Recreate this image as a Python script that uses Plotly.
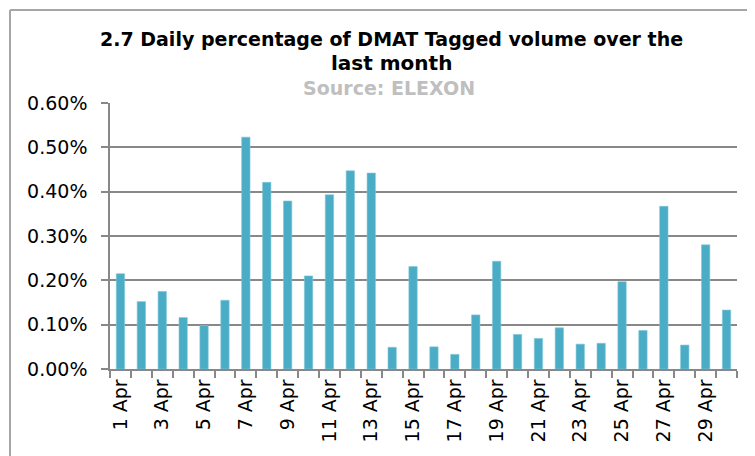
import plotly.graph_objects as go

days = [f"{d} Apr" for d in range(1, 31)]
values = [0.215, 0.152, 0.175, 0.116, 0.098, 0.155, 0.523, 0.421, 0.379, 0.210,
          0.393, 0.447, 0.442, 0.049, 0.231, 0.050, 0.033, 0.122, 0.243, 0.078,
          0.069, 0.093, 0.056, 0.058, 0.197, 0.087, 0.367, 0.054, 0.280, 0.133]
tick_labels = [d if i % 2 == 0 else "" for i, d in enumerate(days)]
y_ticks = [0, 0.001, 0.002, 0.003, 0.004, 0.005, 0.006]

OFF = 8  # default page body margin
W, H = 755 - OFF, 456 - OFF
L, R, T, B = 110 - OFF, 18, 103 - OFF, 87
pw, ph = W - L - R, H - T - B

def px(x):
    return (x - OFF - L) / pw

def py(y):
    return (H - B - (y - OFF)) / ph

FONT = "DejaVu Sans"
grid = "#888888"

fig = go.Figure()
fig.add_trace(go.Bar(
    x=days, y=[v / 100 for v in values],
    marker=dict(color="#4bacc6", line=dict(color="#7fc8da", width=0.6)),
))

fig.update_layout(
    width=W, height=H,
    margin=dict(l=L, r=R, t=T, b=B, pad=0),
    paper_bgcolor="white", plot_bgcolor="white",
    bargap=0.6, showlegend=False,
    font=dict(family=FONT, color="black", size=17),
    xaxis=dict(
        type="category", tickmode="array", tickvals=days, ticktext=tick_labels,
        tickangle=-90, ticks="outside", tickson="boundaries", ticklen=7,
        tickcolor=grid, tickwidth=1.5, showline=True, linecolor=grid, linewidth=1.5,
        showgrid=False, tickfont=dict(size=19, family=FONT), ticklabelstandoff=1,
    ),
    yaxis=dict(
        range=[0, 0.006], tickvals=y_ticks, tickformat=".2%",
        ticks="outside", ticklen=7, tickcolor=grid, tickwidth=1.5,
        showline=True, linecolor=grid, linewidth=1.5,
        showgrid=True, gridcolor=grid, gridwidth=1.5, zeroline=False,
        tickfont=dict(size=19, family=FONT), ticklabelstandoff=10,
    ),
    shapes=[
        dict(type="line", xref="paper", yref="paper", x0=px(10), x1=px(10), y0=py(10), y1=py(470),
             line=dict(color="#a6a6a6", width=2)),
        dict(type="line", xref="paper", yref="paper", x0=px(10), x1=px(770), y0=py(10), y1=py(10),
             line=dict(color="#a6a6a6", width=2)),
    ],
    annotations=[
        dict(text="<b>2.7 Daily percentage of DMAT Tagged volume over the</b>", xref="paper", yref="paper",
             x=px(391), y=py(39), showarrow=False, xanchor="center", yanchor="middle",
             font=dict(size=19, family=FONT, color="black")),
        dict(text="<b>last month</b>", xref="paper", yref="paper",
             x=px(391), y=py(63), showarrow=False, xanchor="center", yanchor="middle",
             font=dict(size=20, family=FONT, color="black")),
        dict(text="<b>Source: ELEXON</b>", xref="paper", yref="paper",
             x=px(389), y=py(88), showarrow=False, xanchor="center", yanchor="middle",
             font=dict(size=19, family=FONT, color="#bfbfbf")),
    ],
)

fig.write_html("out.html")
